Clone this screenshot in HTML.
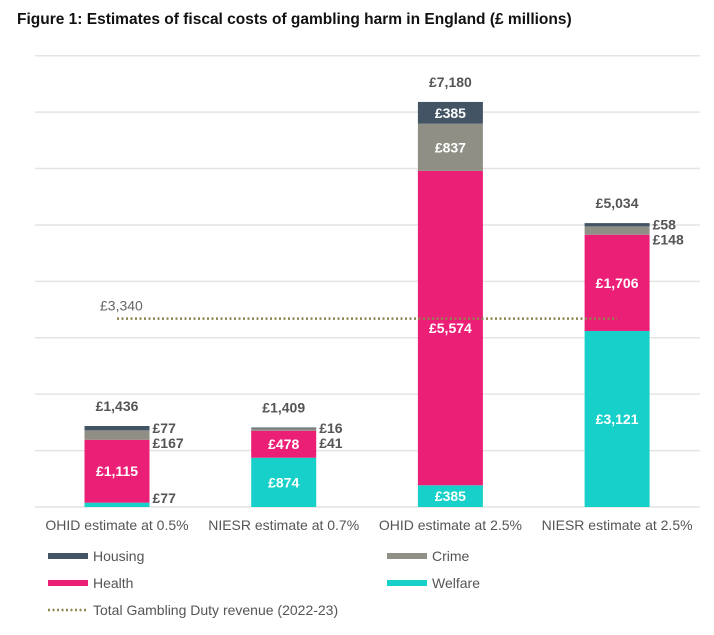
<!DOCTYPE html>
<html><head><meta charset="utf-8"><style>
body{margin:0;background:#fff;font-family:"Liberation Sans",sans-serif}
svg{display:block}
</style></head><body>
<svg id="c" width="714" height="635">
<text x="17" y="24" font-size="15.5" font-weight="bold" fill="#111">Figure 1: Estimates of fiscal costs of gambling harm in England (£ millions)</text>
</svg>
<script>
const categories=["OHID estimate at 0.5%","NIESR estimate at 0.7%","OHID estimate at 2.5%","NIESR estimate at 2.5%"];
const welfare=[77,874,385,3121];
const health=[1115,478,5574,1706];
const crime=[167,41,837,148];
const housing=[77,16,385,58];
const totals=[1436,1409,7180,5034];
const dutyRevenue=3340;
const gridTicks=[0,1000,2000,3000,4000,5000,6000,7000,8000];
const seriesNames=["Welfare","Health","Crime","Housing"];
const colors=["#16d0c9","#ec1f77","#8f8f86","#435564"];
const svg=document.getElementById('c');
const NS="http://www.w3.org/2000/svg";
const base=507, perUnit=405/7180;
const y=v=>base-v*perUnit;
const xc=i=>117+i*166.7;
const bw=65;
function mk(t,a){const e=document.createElementNS(NS,t);for(const k in a)e.setAttribute(k,a[k]);svg.appendChild(e);return e;}
const fmt=v=>"£"+v.toLocaleString("en-GB");
gridTicks.forEach(t=>{
 const l=mk('line',{x1:35,x2:700,y1:y(t),y2:y(t),stroke:"#e4e4e4","stroke-width":1.5});
 
 
});
const series=[welfare,health,crime,housing];
categories.forEach((c,i)=>{
 let cum=0; const outs=[];
 series.forEach((s,k)=>{
  const v=s[i]; const y0=y(cum), y1=y(cum+v); cum+=v;
  const r=mk('rect',{x:xc(i)-bw/2,y:y1,width:bw,height:y0-y1,fill:colors[k]});
  
  
  const h=y0-y1, cy=(y0+y1)/2;
  if(h>18){
   const t=mk('text',{x:xc(i),y:cy+5,"text-anchor":"middle","font-size":14,"font-weight":"bold",fill:"#fff"});
   t.textContent=fmt(v);
   
   
  } else outs.push({v,cy});
 });
 outs.sort((a,b)=>a.cy-b.cy);
 let prev=-100;
 outs.forEach(o=>{
  let yy=Math.max(o.cy,prev+15); yy=Math.min(yy,base-9); prev=yy;
  const t=mk('text',{x:xc(i)+bw/2+3,y:yy+5,"font-size":14,"font-weight":"bold",fill:"#555"});
  t.textContent=fmt(o.v);
  
  
 });
 const tt=mk('text',{x:xc(i),y:y(totals[i])-15,"text-anchor":"middle","font-size":14,"font-weight":"bold",fill:"#555"});
 tt.textContent=fmt(totals[i]);
 
 
 const cl=mk('text',{x:xc(i),y:530,"text-anchor":"middle","font-size":14,fill:"#555"});
 cl.textContent=c;
 
 
});
const dl=mk('line',{x1:xc(0),x2:xc(3),y1:y(dutyRevenue),y2:y(dutyRevenue),stroke:"#8d8450","stroke-width":2.5,"stroke-dasharray":"2 2.5"});


const dt=mk('text',{x:100,y:y(dutyRevenue)-8,"font-size":14,fill:"#666"});
dt.textContent=fmt(dutyRevenue);


const leg=[["Housing",3,48,556],["Crime",2,387,556],["Health",1,48,583],["Welfare",0,387,583]];
leg.forEach(([n,k,x,yy])=>{
 const r=mk('rect',{x:x,y:yy-3,width:40,height:6,fill:colors[k]});
 
 
 const t=mk('text',{x:x+45,y:yy+5,"font-size":14,fill:"#555"});
 t.textContent=n;
 
 
});
const ll=mk('line',{x1:48,x2:88,y1:610,y2:610,stroke:"#8d8450","stroke-width":2.5,"stroke-dasharray":"2 2.5"});


const lt=mk('text',{x:93,y:615,"font-size":14,fill:"#555"});
lt.textContent="Total Gambling Duty revenue (2022-23)";


</script>
</body></html>
